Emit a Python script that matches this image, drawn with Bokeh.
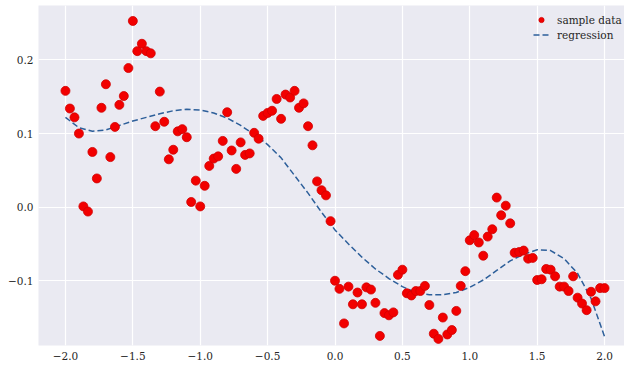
from bokeh.plotting import figure
from bokeh.models import Range1d, FixedTicker, CustomJSTickFormatter, Legend, LegendItem
from bokeh.embed import file_html
from bokeh.resources import INLINE

# ---- data ----
x_data = [
    -2.000, -1.967, -1.933, -1.900, -1.867, -1.833, -1.800, -1.767, -1.733, -1.700,
    -1.667, -1.633, -1.600, -1.567, -1.533, -1.500, -1.467, -1.433, -1.400, -1.367,
    -1.333, -1.300, -1.267, -1.233, -1.200, -1.167, -1.133, -1.100, -1.067, -1.033,
    -1.000, -0.967, -0.933, -0.900, -0.867, -0.833, -0.800, -0.767, -0.733, -0.700,
    -0.667, -0.633, -0.600, -0.567, -0.533, -0.500, -0.467, -0.433, -0.400, -0.367,
    -0.333, -0.300, -0.267, -0.233, -0.200, -0.167, -0.133, -0.100, -0.067, -0.033,
    0.000, 0.033, 0.067, 0.100, 0.133, 0.167, 0.200, 0.233, 0.267, 0.300,
    0.333, 0.367, 0.400, 0.433, 0.467, 0.500, 0.533, 0.567, 0.600, 0.633,
    0.667, 0.700, 0.733, 0.767, 0.800, 0.833, 0.867, 0.900, 0.933, 0.967,
    1.000, 1.033, 1.067, 1.100, 1.133, 1.167, 1.200, 1.233, 1.267, 1.300,
    1.333, 1.367, 1.400, 1.433, 1.467, 1.500, 1.533, 1.567, 1.600, 1.633,
    1.667, 1.700, 1.733, 1.767, 1.800, 1.833, 1.867, 1.900, 1.933, 1.967,
    2.000,
]
y_data = [
    0.158, 0.134, 0.122, 0.100, 0.001, -0.006, 0.075, 0.039, 0.135, 0.167,
    0.068, 0.109, 0.139, 0.151, 0.189, 0.253, 0.212, 0.222, 0.212, 0.209,
    0.110, 0.157, 0.116, 0.065, 0.078, 0.103, 0.106, 0.095, 0.007, 0.036,
    0.001, 0.029, 0.056, 0.066, 0.069, 0.090, 0.129, 0.077, 0.052, 0.088,
    0.071, 0.073, 0.101, 0.093, 0.124, 0.128, 0.131, 0.147, 0.120, 0.153,
    0.149, 0.158, 0.135, 0.141, 0.110, 0.084, 0.035, 0.023, 0.016, -0.019,
    -0.100, -0.111, -0.158, -0.108, -0.132, -0.116, -0.132, -0.109, -0.112, -0.130,
    -0.175, -0.144, -0.147, -0.143, -0.092, -0.085, -0.117, -0.120, -0.114, -0.114,
    -0.107, -0.133, -0.172, -0.179, -0.150, -0.173, -0.167, -0.141, -0.107, -0.087,
    -0.045, -0.038, -0.048, -0.066, -0.040, -0.030, 0.013, -0.011, 0.002, -0.022,
    -0.062, -0.061, -0.059, -0.070, -0.069, -0.099, -0.098, -0.084, -0.085, -0.094,
    -0.108, -0.108, -0.114, -0.094, -0.123, -0.131, -0.140, -0.115, -0.128, -0.110,
    -0.110,
]
x_fit = [
    -2.0, -1.9, -1.8, -1.7, -1.6, -1.5, -1.4, -1.3, -1.2, -1.1,
    -1.0, -0.9, -0.8, -0.7, -0.6, -0.5, -0.4, -0.3, -0.2, -0.1,
    0.0, 0.1, 0.2, 0.3, 0.4, 0.5, 0.6, 0.7, 0.8, 0.9,
    1.0, 1.1, 1.2, 1.3, 1.4, 1.5, 1.6, 1.7, 1.8, 1.9, 2.0,
]
y_fit = [
    0.122, 0.108, 0.103, 0.105, 0.111, 0.117, 0.122, 0.127, 0.131, 0.133,
    0.132, 0.128, 0.121, 0.111, 0.099, 0.085, 0.067, 0.043, 0.019, -0.007,
    -0.031, -0.050, -0.068, -0.084, -0.097, -0.108, -0.116, -0.119, -0.119, -0.116,
    -0.109, -0.099, -0.086, -0.073, -0.064, -0.058, -0.059, -0.070, -0.090, -0.124,
    -0.176,
]
x_ticks = [-2.0, -1.5, -1.0, -0.5, 0.0, 0.5, 1.0, 1.5, 2.0]
y_ticks = [-0.1, 0.0, 0.1, 0.2]
series_labels = ["sample data", "regression"]

FONT = "DejaVu Serif"

p = figure(
    width=624, height=362,
    output_backend="svg", toolbar_location=None,
    x_range=Range1d(-2.2, 2.148), y_range=Range1d(-0.188, 0.274),
    min_border_left=38, min_border_right=0, min_border_top=5, min_border_bottom=0,
    background_fill_color="#EAEAF2", border_fill_color="white",
)
p.outline_line_color = None

fmt = CustomJSTickFormatter(code="""
const s = Math.abs(tick).toFixed(1);
return (tick < -1e-9) ? "\u2212" + s : s;
""")

for ax, ticks in ((p.xaxis[0], x_ticks), (p.yaxis[0], y_ticks)):
    ax.ticker = FixedTicker(ticks=ticks)
    ax.formatter = fmt
    ax.axis_line_color = None
    ax.major_tick_line_color = None
    ax.minor_tick_line_color = None
    ax.major_tick_out = 0
    ax.major_tick_in = 0
    ax.minor_tick_out = 0
    ax.minor_tick_in = 0
    ax.major_label_text_font = FONT
    ax.major_label_text_font_size = "10.5px"
    ax.major_label_text_color = "#262626"
p.xaxis[0].major_label_standoff = 6
p.yaxis[0].major_label_standoff = 5

p.xgrid.ticker = FixedTicker(ticks=x_ticks)
p.ygrid.ticker = FixedTicker(ticks=y_ticks)
for g in (p.xgrid[0], p.ygrid[0]):
    g.grid_line_color = "white"
    g.grid_line_width = 1.2

r_fit = p.line(x_fit, y_fit, line_color="#2D5F9A", line_width=1.5, line_dash="6 3")
r_pts = p.scatter(x_data, y_data, size=9, fill_color="#F20000", line_color="#D00000", line_width=0.8)

legend = Legend(
    items=[LegendItem(label=series_labels[0], renderers=[r_pts]),
           LegendItem(label=series_labels[1], renderers=[r_fit])],
    location=(495, 304),
    background_fill_alpha=0, border_line_color=None,
    label_text_font=FONT, label_text_font_size="10.5px", label_text_color="#262626",
    glyph_width=16, glyph_height=13, label_height=13, label_width=64, label_standoff=8,
    spacing=2, padding=2, margin=0,
)
p.add_layout(legend)

open("out.html", "w").write(file_html(p, INLINE))
